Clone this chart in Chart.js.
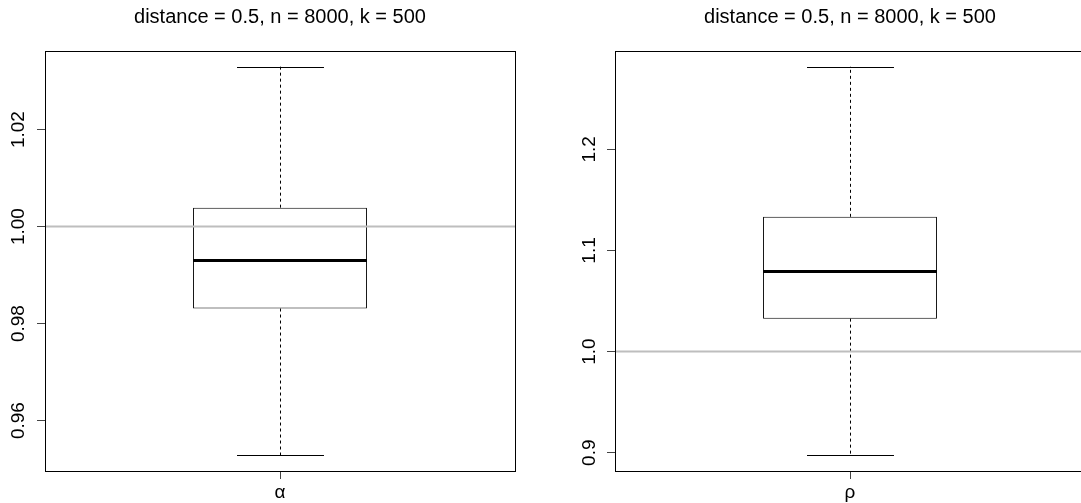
<!DOCTYPE html>
<html>
<head>
<meta charset="utf-8">
<script src="https://cdn.jsdelivr.net/npm/chart.js@4/dist/chart.umd.min.js"></script>
<style>
  html, body { margin: 0; padding: 0; background: #fff; width: 1081px; height: 503px; overflow: hidden; }
  canvas { position: absolute; top: 0; }
  #alphaChart { left: 0; }
  #rhoChart { left: 540px; }
</style>
</head>
<body>
<canvas id="alphaChart" width="540" height="503" style="width:540px;height:503px"></canvas>
<canvas id="rhoChart" width="560" height="503" style="width:560px;height:503px"></canvas>
<script>
// Both panels share the same title
const titleText = 'distance = 0.5, n = 8000, k = 500';

// Left panel: alpha estimates (min, q1, median, q3, max)
const alphaLabels = ['α'];
const alphaStats = [0.9528, 0.9831, 0.9930, 1.0039, 1.0330];
const alphaRange = [0.9496, 1.0362];
const alphaTicks = [0.96, 0.98, 1.00, 1.02];
const alphaTickLabels = ['0.96', '0.98', '1.00', '1.02'];

// Right panel: rho estimates (min, q1, median, q3, max)
const rhoLabels = ['ρ'];
const rhoStats = [0.8973, 1.0326, 1.0793, 1.1333, 1.2819];
const rhoRange = [0.8819, 1.2973];
const rhoTicks = [0.9, 1.0, 1.1, 1.2];
const rhoTickLabels = ['0.9', '1.0', '1.1', '1.2'];

// true value, drawn as the grey line
const trueValue = 1;

const font = { family: '"Liberation Sans", Arial, sans-serif', size: 19 };

// whiskers, staples, median, reference line, frame and title
const boxPlugin = {
    id: 'rbox',
    afterDatasetsDraw(chart, args, opts) {
        const { ctx, chartArea: a, scales: { x, y } } = chart;
        const s = opts.stats;
        const bar = chart.getDatasetMeta(0).data[0];
        const cx = Math.round(x.getPixelForValue(0)) + 0.5;
        const half = bar.width / 2;
        const py = v => y.getPixelForValue(v);

        ctx.save();
        ctx.strokeStyle = '#000';
        ctx.lineWidth = 1;

        // dashed whiskers
        ctx.setLineDash([3, 3]);
        ctx.beginPath();
        ctx.moveTo(cx, py(s[3]));
        ctx.lineTo(cx, py(s[4]));
        ctx.moveTo(cx, py(s[1]));
        ctx.lineTo(cx, py(s[0]));
        ctx.stroke();
        ctx.setLineDash([]);

        // staples, half the box width
        ctx.beginPath();
        ctx.moveTo(cx - half / 2, Math.round(py(s[4])) + 0.5);
        ctx.lineTo(cx + half / 2, Math.round(py(s[4])) + 0.5);
        ctx.moveTo(cx - half / 2, Math.round(py(s[0])) + 0.5);
        ctx.lineTo(cx + half / 2, Math.round(py(s[0])) + 0.5);
        ctx.stroke();

        // median
        ctx.lineWidth = 3;
        ctx.beginPath();
        ctx.moveTo(bar.x - half, py(s[2]));
        ctx.lineTo(bar.x + half, py(s[2]));
        ctx.stroke();

        // grey line at the true value
        ctx.strokeStyle = '#bebebe';
        ctx.lineWidth = 2;
        ctx.beginPath();
        ctx.moveTo(a.left, py(opts.ref));
        ctx.lineTo(a.right, py(opts.ref));
        ctx.stroke();

        // frame
        ctx.strokeStyle = '#000';
        ctx.lineWidth = 1;
        ctx.strokeRect(a.left + 0.5, a.top + 0.5, a.right - a.left, a.bottom - a.top);

        // title centred over the plot
        ctx.fillStyle = '#000';
        ctx.font = '20px "Liberation Sans", Arial, sans-serif';
        ctx.textAlign = 'center';
        ctx.textBaseline = 'middle';
        ctx.fillText(opts.title, (a.left + a.right) / 2, 17);
        ctx.restore();
    }
};

function makeBoxChart(id, labels, stats, range, ticks, tickLabels, yWidth, padRight, labelPad) {
    return new Chart(document.getElementById(id), {
        type: 'bar',
        data: {
            labels: labels,
            datasets: [{
                data: [[stats[1], stats[3]]],
                backgroundColor: '#fff',
                borderColor: '#000',
                borderWidth: 1,
                borderSkipped: false,
                barPercentage: 0.37,
                categoryPercentage: 1
            }]
        },
        options: {
            responsive: false,
            animation: false,
            devicePixelRatio: 1,
            layout: { padding: { top: 51, right: padRight, left: 0, bottom: 0 } },
            plugins: {
                legend: { display: false },
                tooltip: { enabled: false },
                title: { display: false },
                rbox: { stats: stats, ref: trueValue, title: titleText }
            },
            scales: {
                x: {
                    grid: { offset: false, drawOnChartArea: false, tickLength: 8, color: '#444' },
                    border: { display: false },
                    ticks: { padding: 2, font: font, color: '#000' },
                    afterFit: s => { s.height = 32; }
                },
                y: {
                    min: range[0],
                    max: range[1],
                    afterBuildTicks: s => { s.ticks = ticks.map(v => ({ value: v })); },
                    ticks: {
                        callback: (v, i) => tickLabels[i],
                        minRotation: 90,
                        maxRotation: 90,
                        crossAlign: 'center',
                        padding: labelPad,
                        font: font,
                        color: '#000'
                    },
                    grid: { drawOnChartArea: false, tickLength: 8, color: '#444' },
                    border: { display: false },
                    afterFit: s => { s.width = yWidth; }
                }
            }
        },
        plugins: [boxPlugin]
    });
}

makeBoxChart('alphaChart', alphaLabels, alphaStats, alphaRange, alphaTicks, alphaTickLabels, 45, 25, 0);
makeBoxChart('rhoChart', rhoLabels, rhoStats, rhoRange, rhoTicks, rhoTickLabels, 75, 15, 4);
</script>
</body>
</html>
